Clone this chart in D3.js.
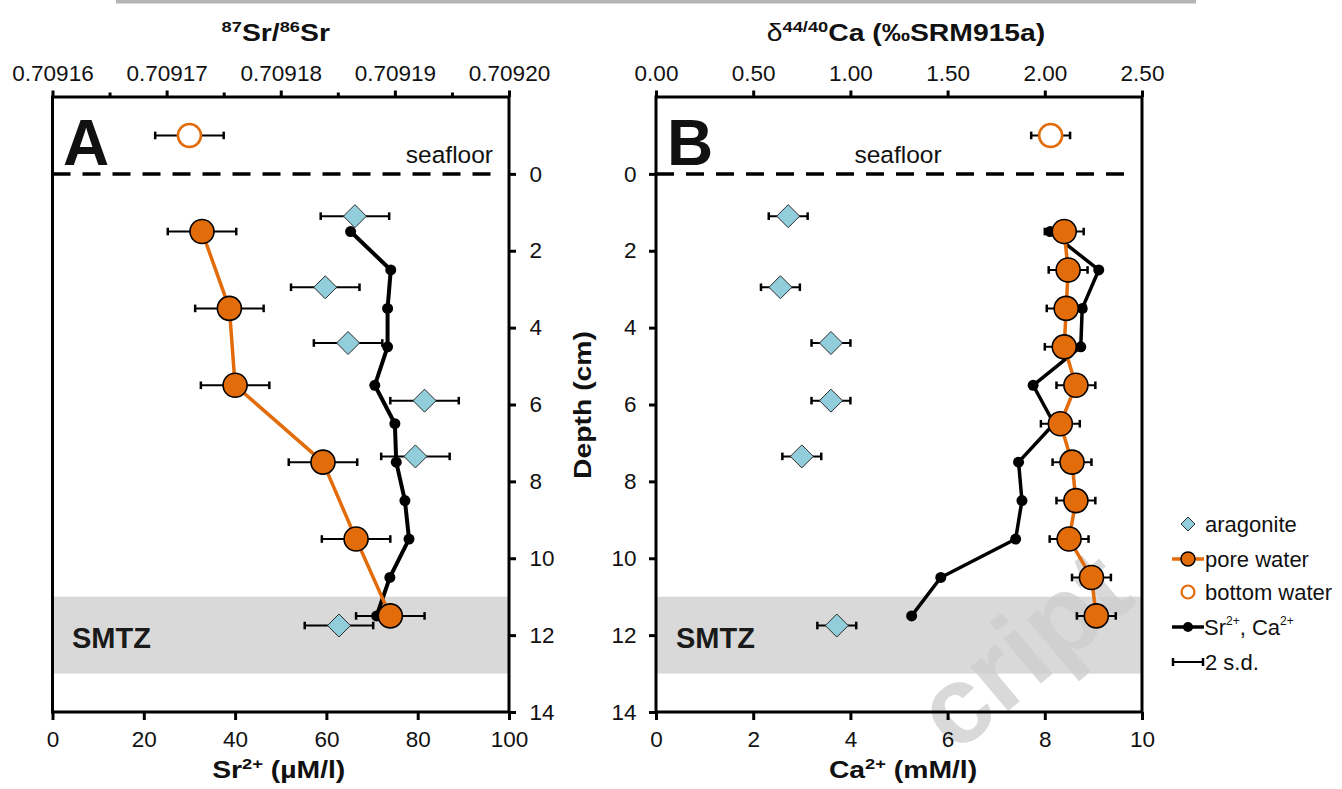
<!DOCTYPE html>
<html><head><meta charset="utf-8">
<script src="https://cdn.jsdelivr.net/npm/d3@7"></script>
<style>
html,body{margin:0;padding:0;background:#fff;}
svg{display:block;font-family:Arial,"Liberation Sans",Helvetica,sans-serif;}
</style></head><body>
<svg id="chart" width="1342" height="789"></svg>
<script>
// ---------------- data ----------------
const poreDepthA   = [1.5, 3.5, 5.5, 7.5, 9.5, 11.5];
const poreSrRatio  = [0.7091731, 0.7091755, 0.7091760, 0.7091837, 0.7091866, 0.7091896];
const srRatioErr   = 0.000003;
const aragDepth    = [1.1, 2.95, 4.4, 5.9, 7.35, 11.75];
const aragSrRatio  = [0.7091865, 0.7091839, 0.7091859, 0.7091926, 0.7091918, 0.7091851];
const concDepth    = [1.5, 2.5, 3.5, 4.5, 5.5, 6.5, 7.5, 8.5, 9.5, 10.5, 11.5];
const srConc       = [65.3, 74.1, 73.4, 73.4, 70.6, 75.0, 75.3, 77.2, 78.1, 73.9, 71.0];
const poreDepthB   = [1.5, 2.5, 3.5, 4.5, 5.5, 6.5, 7.5, 8.5, 9.5, 10.5, 11.5];
const poreCaIso    = [2.10, 2.12, 2.11, 2.10, 2.16, 2.08, 2.14, 2.16, 2.125, 2.24, 2.265];
const caIsoErr     = 0.10;
const aragCaIso    = [0.68, 0.64, 0.90, 0.90, 0.75, 0.93];
const caConc       = [8.11, 9.11, 8.77, 8.74, 7.76, 8.19, 7.46, 7.53, 7.40, 5.86, 5.26];
const bottomDepth  = [-1];
const bottomSrRatio = [0.709172];
const bottomCaIso  = [2.03];
const smtzRange    = [11, 13];
const depthTicks   = [0, 2, 4, 6, 8, 10, 12, 14];
const srRatioTicks = [0.70916, 0.70917, 0.70918, 0.70919, 0.70920];
const srRatioMinor = [0.709165, 0.709175, 0.709185, 0.709195];
const srConcTicks  = [0, 20, 40, 60, 80, 100];
const caIsoTicks   = [0, 0.5, 1.0, 1.5, 2.0, 2.5];
const caConcTicks  = [0, 2, 4, 6, 8, 10];

// ---------------- style ----------------
const ORANGE = "#e36c0a", BLUE = "#92cddc", BAND = "#d9d9d9";
const svg = d3.select("#chart");

// page artifact bar at the top
svg.append("rect").attr("x",116).attr("y",0).attr("width",1080).attr("height",3.5).attr("fill","#b4b4b4");

const yScale = d3.scaleLinear().domain([-2, 14]).range([97, 712]);

const panels = {
  A: { x0: 52.5, x1: 509,
       bottom: d3.scaleLinear().domain([0,100]).range([52.5,509]),
       top: d3.scaleLinear().domain([0.70916,0.70920]).range([52.5,509]) },
  B: { x0: 656, x1: 1142,
       bottom: d3.scaleLinear().domain([0,10]).range([656,1142]),
       top: d3.scaleLinear().domain([0,2.5]).range([656,1142]) }
};

function richText(sel, parts, supSize, supRaise) {
  let raised = false;
  parts.forEach(p => {
    const t = sel.append("tspan").text(p.t);
    if (p.normal) t.attr("font-weight","normal");
    if (p.sup) {
      t.attr("font-size", supSize).attr("dy", raised ? 0 : -supRaise);
      raised = true;
    } else if (raised) {
      t.attr("dy", supRaise);
      raised = false;
    }
  });
}

function errBars(g, vals, depths, x, err) {
  const eg = g.append("g").attr("stroke","#000").attr("stroke-width",2).attr("fill","none");
  vals.forEach((v,i) => {
    const yy = yScale(depths[i]), xa = x(v-err), xb = x(v+err);
    eg.append("line").attr("x1",xa).attr("x2",xb).attr("y1",yy).attr("y2",yy);
    eg.append("line").attr("x1",xa).attr("x2",xa).attr("y1",yy-3.8).attr("y2",yy+3.8).attr("stroke-width",2.5);
    eg.append("line").attr("x1",xb).attr("x2",xb).attr("y1",yy-3.8).attr("y2",yy+3.8).attr("stroke-width",2.5);
  });
}

function diamonds(g, vals, depths, x, r) {
  g.append("g").selectAll("path").data(vals).join("path")
    .attr("transform",(d,i)=>`translate(${x(d)},${yScale(depths[i])})`)
    .attr("d",`M0,${-r}L${r},0L0,${r}L${-r},0Z`)
    .attr("fill",BLUE).attr("stroke","#2b2b2b").attr("stroke-width",1);
}

function lineSeries(g, vals, depths, x, color, width) {
  const line = d3.line().x(d=>x(d[0])).y(d=>yScale(d[1]));
  g.append("path").datum(vals.map((v,i)=>[v,depths[i]]))
    .attr("d",line).attr("fill","none").attr("stroke",color)
    .attr("stroke-width",width).attr("stroke-linejoin","round");
}

function dots(g, vals, depths, x, r, fill, stroke, sw) {
  g.append("g").selectAll("circle").data(vals).join("circle")
    .attr("cx",d=>x(d)).attr("cy",(d,i)=>yScale(depths[i])).attr("r",r)
    .attr("fill",fill).attr("stroke",stroke).attr("stroke-width",sw);
}

function drawPanel(key, cfg) {
  const P = panels[key];
  const g = svg.append("g");
  // SMTZ band
  g.append("rect").attr("x",P.x0).attr("width",P.x1-P.x0)
    .attr("y",yScale(smtzRange[0])).attr("height",yScale(smtzRange[1])-yScale(smtzRange[0]))
    .attr("fill",BAND);
  if (cfg.watermark) cfg.watermark(g);
  // seafloor dashed line
  g.append("line").attr("x1",P.x0).attr("x2",P.x1-8).attr("y1",yScale(0)).attr("y2",yScale(0))
    .attr("stroke","#000").attr("stroke-width",3.5).attr("stroke-dasharray","18,12");
  // aragonite
  errBars(g, cfg.arag, aragDepth, P.top, cfg.topErr);
  diamonds(g, cfg.arag, aragDepth, P.top, 11.5);
  // concentrations
  lineSeries(g, cfg.conc, concDepth, P.bottom, "#000", cfg.blackW);
  dots(g, cfg.conc, concDepth, P.bottom, 5.5, "#000", "none", 0);
  // pore water isotopes
  lineSeries(g, cfg.pore, cfg.poreDepth, P.top, ORANGE, 3.5);
  errBars(g, cfg.pore, cfg.poreDepth, P.top, cfg.topErr);
  dots(g, cfg.pore, cfg.poreDepth, P.top, 12, ORANGE, "#000", 1.6);
  // bottom water
  errBars(g, cfg.bottom, bottomDepth, P.top, cfg.topErr);
  dots(g, cfg.bottom, bottomDepth, P.top, 11.5, "#fff", ORANGE, 2.6);

  // frame
  g.append("rect").attr("x",P.x0).attr("y",yScale(-2)).attr("width",P.x1-P.x0)
    .attr("height",yScale(14)-yScale(-2)).attr("fill","none").attr("stroke","#000").attr("stroke-width",3);

  // top axis
  const topAx = g.append("g").attr("transform",`translate(0,${yScale(-2)})`)
    .call(d3.axisTop(P.top).tickValues(cfg.topTicks).tickSize(6.5).tickPadding(10).tickFormat(cfg.topFmt));
  if (cfg.topMinor) {
    g.append("g").attr("transform",`translate(0,${yScale(-2)})`)
      .call(d3.axisTop(P.top).tickValues(cfg.topMinor).tickSize(4.5).tickFormat(""))
      .call(a=>a.select(".domain").remove());
  }
  // bottom axis
  const botAx = g.append("g").attr("transform",`translate(0,${yScale(14)})`)
    .call(d3.axisBottom(P.bottom).tickValues(cfg.botTicks).tickSize(8).tickPadding(11.5).tickFormat(d3.format("d")));
  // depth axis
  const dAx = cfg.depthSide === "right"
    ? d3.axisRight(yScale).tickValues(depthTicks).tickSize(7).tickPadding(13.5)
    : d3.axisLeft(yScale).tickValues(depthTicks).tickSize(7).tickPadding(12.5);
  const depAx = g.append("g").attr("transform",`translate(${cfg.depthSide==="right"?P.x1:P.x0},0)`).call(dAx);

  [topAx, botAx, depAx].forEach(a => {
    a.select(".domain").remove();
    a.selectAll(".tick line").attr("stroke","#000").attr("stroke-width",3);
    a.selectAll(".tick text").attr("fill","#111").attr("font-size",22.5)
      .attr("font-family",'Arial,"Liberation Sans",sans-serif');
  });
  g.selectAll(".tick line").attr("stroke-width",3);

  // panel letter
  g.append("text").attr("x",cfg.letterX).attr("y",165).attr("font-size",64).attr("font-weight","bold")
    .attr("fill","#111").text(key);
  // seafloor label
  g.append("text").attr("x",cfg.seaX).attr("y",163).attr("text-anchor",cfg.seaAnchor)
    .attr("font-size",24.5).attr("fill","#111").text("seafloor");
  // SMTZ label
  g.append("text").attr("x",cfg.smtzX).attr("y",648).attr("font-size",29).attr("font-weight","bold")
    .attr("fill","#1a1a1a").text("SMTZ");

  // titles
  const cx = (P.x0+P.x1)/2;
  const tTop = g.append("text").attr("text-anchor","middle").attr("font-size",24).attr("font-weight","bold")
    .attr("fill","#111").attr("transform",`translate(${cx+cfg.topTitleDx},41) scale(1.18,1)`);
  richText(tTop, cfg.topTitle, 15.5, 9);
  const tBot = g.append("text").attr("text-anchor","middle").attr("font-size",24).attr("font-weight","bold")
    .attr("fill","#111").attr("transform",`translate(${cx+cfg.botTitleDx},778) scale(1.18,1)`);
  richText(tBot, cfg.botTitle, 15.5, 9);
}

drawPanel("A", {
  arag: aragSrRatio, conc: srConc, pore: poreSrRatio, poreDepth: poreDepthA, bottom: bottomSrRatio,
  topErr: srRatioErr, blackW: 4, topTicks: srRatioTicks, topMinor: srRatioMinor,
  topFmt: d3.format(".5f"), botTicks: srConcTicks, depthSide: "right",
  letterX: 63, seaX: 493, seaAnchor: "end", smtzX: 72,
  topTitle: [{t:"87",sup:true},{t:"Sr/"},{t:"86",sup:true},{t:"Sr"}], topTitleDx: -5,
  botTitle: [{t:"Sr"},{t:"2+",sup:true},{t:" (\u00b5M/l)"}], botTitleDx: -2
});

drawPanel("B", {
  arag: aragCaIso, conc: caConc, pore: poreCaIso, poreDepth: poreDepthB, bottom: bottomCaIso,
  topErr: caIsoErr, blackW: 3.5, topTicks: caIsoTicks, topMinor: null,
  topFmt: d3.format(".2f"), botTicks: caConcTicks, depthSide: "left",
  letterX: 667, seaX: 898, seaAnchor: "middle", smtzX: 676,
  watermark: g => {
    g.append("text").attr("text-anchor","end").attr("font-size",110).attr("font-weight","bold")
      .attr("fill","#cdcdcd").attr("opacity",0.75)
      .attr("transform","translate(1138,602) rotate(-40)").text("cript");
  },
  topTitle: [{t:"\u03b4",normal:true},{t:"44/40",sup:true},{t:"Ca (\u2030SRM915a)"}], topTitleDx: 7,
  botTitle: [{t:"Ca"},{t:"2+",sup:true},{t:" (mM/l)"}], botTitleDx: 4
});

// depth axis title
svg.append("text").attr("text-anchor","middle").attr("font-size",24).attr("font-weight","bold").attr("fill","#111")
  .attr("transform","translate(591,405) rotate(-90) scale(1.18,1)").text("Depth (cm)");

// ---------------- legend ----------------
const lg = svg.append("g").attr("font-size",22).attr("fill","#111");
const lx = 1188, tx = 1205;
const rows = [524, 559, 592, 627, 662];
lg.append("path").attr("transform",`translate(${lx},${rows[0]})`).attr("d","M0,-7L7,0L0,7L-7,0Z")
  .attr("fill",BLUE).attr("stroke","#2b2b2b").attr("stroke-width",1);
lg.append("line").attr("x1",1172).attr("x2",1204).attr("y1",rows[1]).attr("y2",rows[1]).attr("stroke",ORANGE).attr("stroke-width",3.5);
lg.append("circle").attr("cx",lx).attr("cy",rows[1]).attr("r",7).attr("fill",ORANGE).attr("stroke","#000").attr("stroke-width",1.5);
lg.append("circle").attr("cx",lx).attr("cy",rows[2]).attr("r",6.5).attr("fill","#fff").attr("stroke",ORANGE).attr("stroke-width",2.2);
lg.append("line").attr("x1",1172).attr("x2",1204).attr("y1",rows[3]).attr("y2",rows[3]).attr("stroke","#000").attr("stroke-width",3.5);
lg.append("circle").attr("cx",lx).attr("cy",rows[3]).attr("r",5).attr("fill","#000");
lg.append("line").attr("x1",1173).attr("x2",1203).attr("y1",rows[4]).attr("y2",rows[4]).attr("stroke","#000").attr("stroke-width",2);
lg.append("line").attr("x1",1173).attr("x2",1173).attr("y1",rows[4]-4).attr("y2",rows[4]+4).attr("stroke","#000").attr("stroke-width",2.5);
lg.append("line").attr("x1",1203).attr("x2",1203).attr("y1",rows[4]-4).attr("y2",rows[4]+4).attr("stroke","#000").attr("stroke-width",2.5);
const labels = ["aragonite","pore water","bottom water",null,"2 s.d."];
labels.forEach((t,i)=>{ if(t) lg.append("text").attr("x",tx).attr("y",rows[i]+8).text(t); });
const srca = lg.append("text").attr("x",tx-1).attr("y",rows[3]+8);
srca.append("tspan").text("Sr");
srca.append("tspan").attr("font-size",12).attr("dy",-10).text("2+");
srca.append("tspan").attr("dy",10).text(", Ca");
srca.append("tspan").attr("font-size",12).attr("dy",-10).text("2+");
</script>
</body></html>
